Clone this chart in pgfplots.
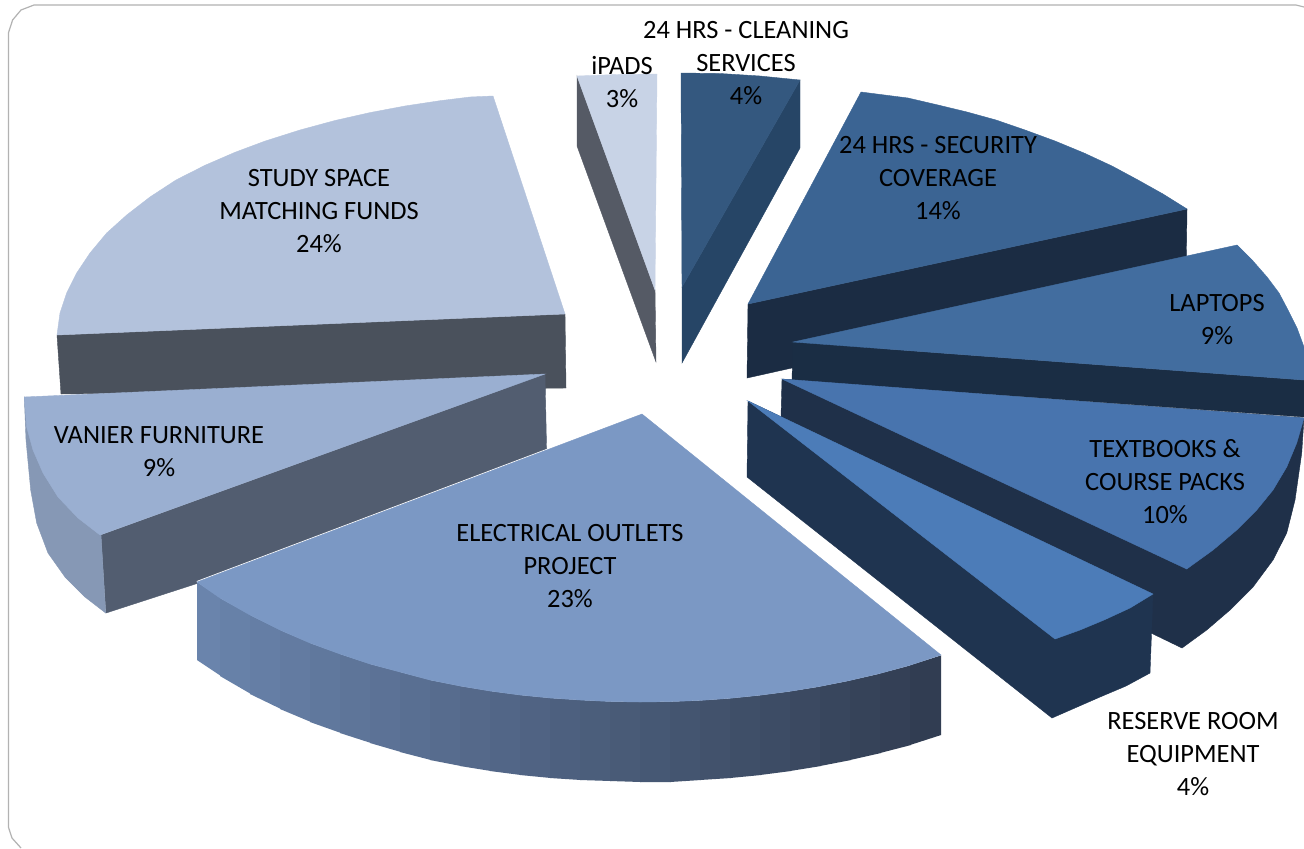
\documentclass[border=0pt]{standalone}
\usepackage{fontspec}
\setmainfont{Carlito}
\usepackage{pgfplots}
\pgfplotsset{compat=1.18}
\definecolor{eL}{HTML}{6B85AE}
\definecolor{eR}{HTML}{303C50}
\definecolor{studyS}{HTML}{4A515C}
\definecolor{studyT}{HTML}{B3C2DC}
\definecolor{vanS}{HTML}{525D70}
\definecolor{vanO}{HTML}{8698B5}
\definecolor{vanT}{HTML}{9AAFD1}
\definecolor{elecT}{HTML}{7B98C4}
\definecolor{ipadS}{HTML}{555A65}
\definecolor{ipadT}{HTML}{C8D3E6}
\definecolor{cleanS}{HTML}{264566}
\definecolor{cleanT}{HTML}{34587F}
\definecolor{secS}{HTML}{1B2C43}
\definecolor{secT}{HTML}{3B6493}
\definecolor{lapS}{HTML}{1A2D44}
\definecolor{lapT}{HTML}{426D9F}
\definecolor{texS}{HTML}{1F3049}
\definecolor{texT}{HTML}{4874AE}
\definecolor{resS}{HTML}{1F3450}
\definecolor{resT}{HTML}{4C7CB8}
\newcommand{\slice}[2]{\addplot[fill=#1,draw=#1,line width=0.2pt] coordinates {#2} -- cycle;}
\newcommand{\strip}[7]{\addplot[fill=eL!#7!eR,draw=none] coordinates {(#1,#2)(#4,#5)(#4,#6)(#1,#3)} -- cycle;}
\newcommand{\lab}[3]{\node[font=\fontsize{13.2}{16.5}\selectfont,align=center,text=black,inner sep=0pt] at (axis cs:#1,#2) {#3};}
\begin{document}
\begin{tikzpicture}
\begin{axis}[scale only axis,width=652pt,height=424pt,xmin=0,xmax=1304,ymin=0,ymax=848,y dir=reverse,hide axis]
% background and panel frame
\addplot[fill=white,draw=none] coordinates {(0,0)(1304,0)(1304,848)(0,848)} -- cycle;
\addplot[draw=black!30,line width=0.6pt] coordinates {(21,848)(12,838)(8.4,827)(8.4,33)(12.6,20)(21,10)(34,5)(1296,5)(1304,7)};
% STUDY SPACE
\slice{studyS}{(57,335)(565,314)(566,388)(61,394)}
\slice{studyT}{(57,335)(60,313)(66.7,293)(76.7,273)(90,253)(106.7,233)(126.7,215)(150,197)(176,180)(205,165.3)(235,152.3)(265,141.1)(300,130)(335,120.5)(370,112.6)(405,106)(440,100.7)(470,97)(493,96)(565,314)}
% VANIER FURNITURE
\slice{vanS}{(545,374)(547,470)(106,613)(101,535)}
\slice{vanO}{(24.3,397)(26,440)(30.7,490)(36.7,523)(48,553)(65,577)(85,597)(105.7,613)(101,535)}
\slice{vanT}{(24.3,397)(26.7,427)(33,450)(43,473)(58,497)(78,518)(100,535)(545,374)}
% ELECTRICAL OUTLETS sides
\strip{197}{582}{660}{221}{598}{676}{98}
\strip{220}{598}{676}{251}{615}{694}{94}
\strip{250}{615}{694}{281}{630}{709}{90}
\strip{280}{630}{709}{311}{643}{722}{86}
\strip{310}{643}{722}{341}{654}{733}{82}
\strip{340}{654}{733}{371}{664}{743}{78}
\strip{370}{664}{743}{401}{672}{752}{74}
\strip{400}{672}{752}{431}{680}{760}{70}
\strip{430}{680}{760}{461}{686}{766}{66}
\strip{460}{686}{766}{491}{691}{771}{62}
\strip{490}{691}{771}{521}{695}{775}{58}
\strip{520}{695}{775}{551}{698}{778}{54}
\strip{550}{698}{778}{581}{700}{780}{50}
\strip{580}{700}{780}{611}{701.5}{781}{46}
\strip{610}{701.5}{781}{641}{702}{782}{42}
\strip{640}{702}{782}{671}{701.6}{782}{38}
\strip{670}{701.6}{782}{701}{700.4}{780}{34}
\strip{700}{700.4}{780}{731}{698.3}{778}{30}
\strip{730}{698.3}{778}{761}{695.2}{775}{26}
\strip{760}{695.2}{775}{791}{691.3}{771}{22}
\strip{790}{691.3}{771}{821}{686.4}{766}{18}
\strip{820}{686.4}{766}{851}{680.4}{760}{14}
\strip{850}{680.4}{760}{881}{673.4}{753}{10}
\strip{880}{673.4}{753}{911}{665.2}{745}{6}
\strip{910}{665.2}{745}{941}{655.4}{735}{2}
% ELECTRICAL OUTLETS top
\addplot[draw=white,line width=1pt] coordinates {(642,414)(197,582)};
\slice{elecT}{(642,414)(197,582)(220,598)(250,615)(280,630)(310,643)(340,654)(370,664)(400,672)(430,680)(460,686)(490,691)(520,695)(550,698)(580,700)(610,701.5)(640,702)(670,701.6)(700,700.4)(730,698.3)(760,695.2)(790,691.3)(820,686.4)(850,680.4)(880,673.4)(910,665.2)(941,655)}
% iPADS
\slice{ipadS}{(577,76)(655,290)(656,362)(577,146)}
\slice{ipadT}{(577,76)(617,74.5)(657,74)(655,290)}
% CLEANING
\slice{cleanS}{(800,80)(682,287)(682,363)(800,148)}
\slice{cleanT}{(681,73)(720,73.5)(760,76)(800,80)(682,287)}
% SECURITY
\slice{secS}{(748,304)(1187,209)(1186,280)(747,378)}
\slice{secT}{(748,304)(861,92)(908,98)(938,105)(967,112)(996,120)(1025,130)(1055,141)(1084,153)(1112,166)(1138,180)(1163,194)(1187,209)}
% LAPTOPS
\slice{lapS}{(793,342)(1304,380)(1304,417)(792,380)}
\slice{lapT}{(793,342)(1237,245)(1253,261)(1267,277)(1279,293)(1288,310)(1297,328)(1304,347)(1304,380)}
% TEXTBOOKS
\slice{texS}{(782,379)(1304,418)(1301.7,453)(1295,500)(1286.7,533)(1273,560)(1253,587)(1230,610)(1206.7,630)(1182,648)(1151,633)(781,417)}
\slice{texT}{(782,379)(1304,418)(1296.7,443)(1286.7,467)(1273,490)(1256.7,510)(1236.7,530)(1213,550)(1186.7,569)}
% RESERVE ROOM
\slice{resS}{(748,401)(1153,594)(1150,673)(1126,686)(1100,697)(1052,718)(747,477)}
\slice{resT}{(748,401)(1153,594)(1130,608)(1104,620)(1080,630)(1055,639)}
% labels
\lab{746}{63}{24 HRS - CLEANING\\SERVICES\\4\%}
\lab{622}{82}{iPADS\\3\%}
\lab{938}{178}{24 HRS - SECURITY\\COVERAGE\\14\%}
\lab{1217}{320}{LAPTOPS\\9\%}
\lab{1165}{482}{TEXTBOOKS \&\\COURSE PACKS\\10\%}
\lab{1193}{754}{RESERVE ROOM\\EQUIPMENT\\4\%}
\lab{570}{566}{ELECTRICAL OUTLETS\\PROJECT\\23\%}
\lab{159}{452}{VANIER FURNITURE\\9\%}
\lab{319}{211}{STUDY SPACE\\MATCHING FUNDS\\24\%}
\end{axis}
\end{tikzpicture}
\end{document}
